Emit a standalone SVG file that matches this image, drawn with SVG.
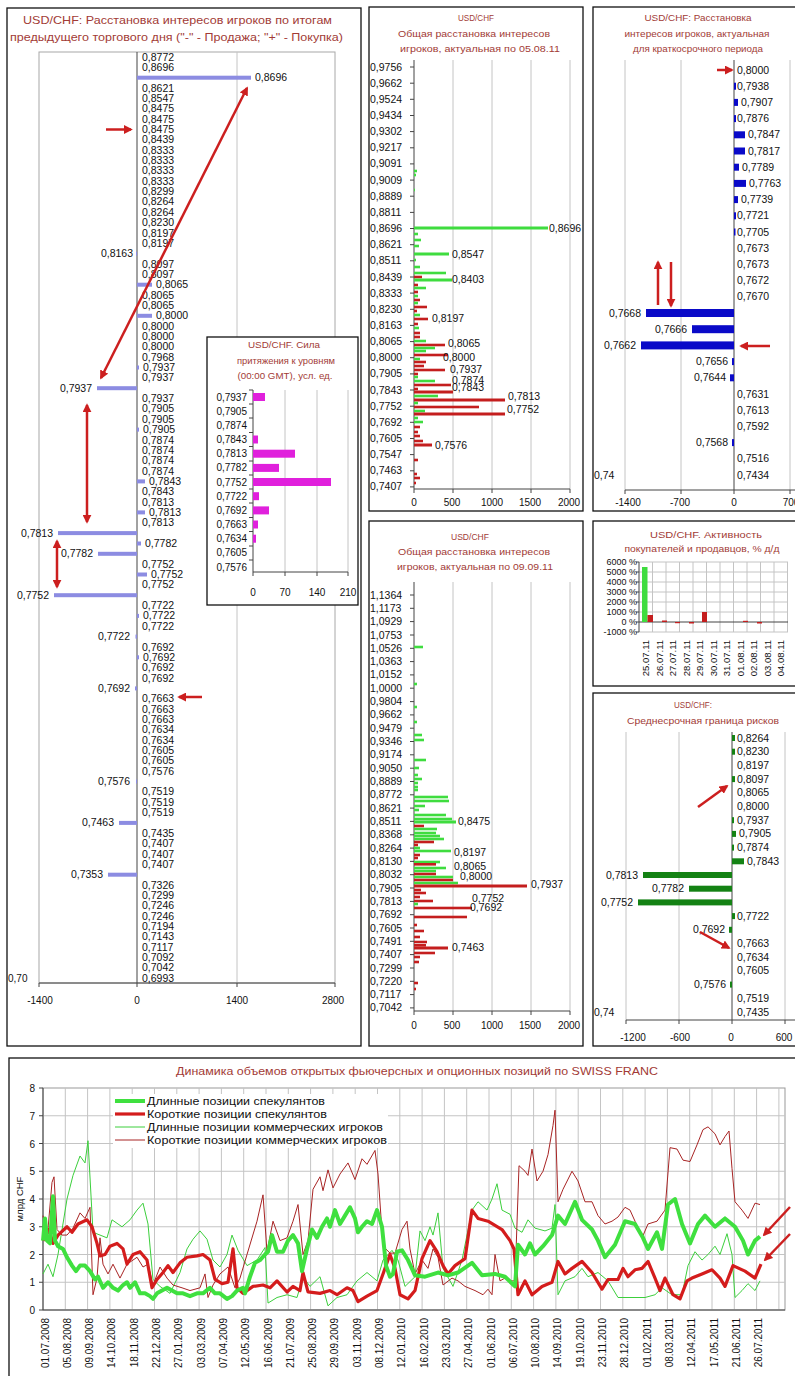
<svg xmlns="http://www.w3.org/2000/svg" width="795" height="1376" viewBox="0 0 795 1376">
<style>
text{font-family:"Liberation Sans",Arial,"Noto Sans",sans-serif;fill:#111}
.ttl{fill:#a23b36;font-size:11.5px}
.ts{fill:#a23b36;font-size:9.5px}
.lb{font-size:10.5px}
.sm{font-size:10px}
.e{text-anchor:end}
.m{text-anchor:middle}
.box{fill:#fff;stroke:#111;stroke-width:1.3}
.pa{fill:none;stroke:#a8a8a8;stroke-width:1}
.grid{stroke:#c4c4c4;stroke-width:1}
.ax{stroke:#444;stroke-width:1;fill:none}
.lp{fill:#8c8ce2}
.g{fill:#3fdc3f}
.r{fill:#c41e1e}
.bl{fill:#0a0ac8}
.dg{fill:#148214}
.mg{fill:#e020dc}
.arr{stroke:#cc1f1f;stroke-width:2.5;fill:none;marker-end:url(#ah)}
.arr2{stroke:#cc1f1f;stroke-width:2.5;fill:none;marker-end:url(#ah);marker-start:url(#ah)}
.ln{fill:none;vector-effect:non-scaling-stroke;stroke-linejoin:round}
</style>
<defs>
<marker id="ah" viewBox="0 0 10 10" refX="8" refY="5" markerWidth="3.6" markerHeight="3.6" orient="auto-start-reverse"><path d="M0,0 L10,5 L0,10 z" fill="#cc1f1f"/></marker>
</defs>
<rect width="795" height="1376" fill="#fff"/>

<!-- LEFT PANEL -->
<g id="left-panel">
<rect class="box" x="7" y="8" width="354" height="1038"/>
<text class="ttl m" x="177.5" y="24" textLength="309" lengthAdjust="spacingAndGlyphs">USD/CHF: Расстановка интересов игроков по итогам</text>
<text class="ttl m" x="176.5" y="41" textLength="333" lengthAdjust="spacingAndGlyphs">предыдущего торгового дня ("-" - Продажа; "+" - Покупка)</text>
<rect class="pa" x="39" y="52" width="296" height="931"/>
<line class="grid" x1="237" y1="52" x2="237" y2="983"/>
<line class="ax" x1="137" y1="52" x2="137" y2="983"/>
<path class="ax" d="M39,983 H335 M39,983 v4 M137,983 v4 M237,983 v4 M335,983 v4"/>
<g class="sm">
<text class="m" x="40" y="1004">-1400</text><text class="m" x="137" y="1004">0</text><text class="m" x="237" y="1004">1400</text><text class="m" x="333" y="1004">2800</text>
<text x="8" y="982">0,70</text>
</g>
<rect class="lp" x="137" y="75.7" width="114" height="4"/>
<rect class="lp" x="137" y="282.7" width="15" height="4"/>
<rect class="lp" x="137" y="313.8" width="15" height="4"/>
<rect class="lp" x="137" y="365.5" width="2" height="4"/>
<rect class="lp" x="97" y="386.2" width="40" height="4"/>
<rect class="lp" x="137" y="427.6" width="2" height="4"/>
<rect class="lp" x="137" y="479.4" width="8" height="4"/>
<rect class="lp" x="137" y="510.4" width="8" height="4"/>
<rect class="lp" x="58" y="531.1" width="79" height="4"/>
<rect class="lp" x="137" y="541.5" width="4" height="4"/>
<rect class="lp" x="98" y="551.8" width="39" height="4"/>
<rect class="lp" x="137" y="572.5" width="10" height="4"/>
<rect class="lp" x="54" y="593.2" width="83" height="4"/>
<rect class="lp" x="137" y="613.9" width="2" height="4"/>
<rect class="lp" x="135.5" y="634.6" width="1.5" height="4"/>
<rect class="lp" x="137" y="655.3" width="2" height="4"/>
<rect class="lp" x="135" y="686.4" width="2" height="4"/>
<rect class="lp" x="136" y="779.5" width="1" height="4"/>
<rect class="lp" x="119" y="820.9" width="18" height="4"/>
<rect class="lp" x="108" y="872.7" width="29" height="4"/>
<rect class="lp" x="136" y="251.7" width="1" height="4"/>
<g class="lb">
<text x="142" y="60.5">0,8772</text>
<text x="142" y="70.9">0,8696</text>
<text x="255" y="81.2">0,8696</text>
<text x="142" y="91.6">0,8621</text>
<text x="142" y="101.9">0,8547</text>
<text x="142" y="112.3">0,8475</text>
<text x="142" y="122.6">0,8475</text>
<text x="142" y="133">0,8475</text>
<text x="142" y="143.3">0,8439</text>
<text x="142" y="153.7">0,8333</text>
<text x="142" y="164">0,8333</text>
<text x="142" y="174.4">0,8333</text>
<text x="142" y="184.7">0,8333</text>
<text x="142" y="195.1">0,8299</text>
<text x="142" y="205.4">0,8264</text>
<text x="142" y="215.8">0,8264</text>
<text x="142" y="226.1">0,8230</text>
<text x="142" y="236.5">0,8197</text>
<text x="142" y="246.8">0,8197</text>
<text class="e" x="133" y="257.2">0,8163</text>
<text x="142" y="267.5">0,8097</text>
<text x="142" y="277.9">0,8097</text>
<text x="156" y="288.2">0,8065</text>
<text x="142" y="298.6">0,8065</text>
<text x="142" y="308.9">0,8065</text>
<text x="156" y="319.3">0,8000</text>
<text x="142" y="329.6">0,8000</text>
<text x="142" y="340">0,8000</text>
<text x="142" y="350.3">0,8000</text>
<text x="142" y="360.7">0,7968</text>
<text x="143" y="371">0,7937</text>
<text x="142" y="381.4">0,7937</text>
<text class="e" x="92" y="391.7">0,7937</text>
<text x="142" y="402.1">0,7937</text>
<text x="142" y="412.4">0,7905</text>
<text x="142" y="422.8">0,7905</text>
<text x="143" y="433.1">0,7905</text>
<text x="142" y="443.5">0,7874</text>
<text x="142" y="453.8">0,7874</text>
<text x="142" y="464.2">0,7874</text>
<text x="142" y="474.5">0,7874</text>
<text x="149" y="484.9">0,7843</text>
<text x="142" y="495.2">0,7843</text>
<text x="142" y="505.6">0,7813</text>
<text x="149" y="515.9">0,7813</text>
<text x="142" y="526.3">0,7813</text>
<text class="e" x="53" y="536.6">0,7813</text>
<text x="145" y="547">0,7782</text>
<text class="e" x="93" y="557.3">0,7782</text>
<text x="142" y="567.7">0,7752</text>
<text x="151" y="578">0,7752</text>
<text x="142" y="588.4">0,7752</text>
<text class="e" x="49" y="598.7">0,7752</text>
<text x="142" y="609.1">0,7722</text>
<text x="143" y="619.4">0,7722</text>
<text x="142" y="629.8">0,7722</text>
<text class="e" x="130" y="640.1">0,7722</text>
<text x="142" y="650.5">0,7692</text>
<text x="143" y="660.8">0,7692</text>
<text x="142" y="671.2">0,7692</text>
<text x="142" y="681.5">0,7692</text>
<text class="e" x="130" y="691.9">0,7692</text>
<text x="142" y="702.2">0,7663</text>
<text x="142" y="712.6">0,7663</text>
<text x="142" y="722.9">0,7663</text>
<text x="142" y="733.3">0,7634</text>
<text x="142" y="743.6">0,7634</text>
<text x="142" y="754">0,7605</text>
<text x="142" y="764.3">0,7605</text>
<text x="142" y="774.7">0,7576</text>
<text class="e" x="130" y="785">0,7576</text>
<text x="142" y="795.4">0,7519</text>
<text x="142" y="805.7">0,7519</text>
<text x="142" y="816.1">0,7519</text>
<text class="e" x="114" y="826.4">0,7463</text>
<text x="142" y="836.8">0,7435</text>
<text x="142" y="847.1">0,7407</text>
<text x="142" y="857.5">0,7407</text>
<text x="142" y="867.8">0,7407</text>
<text class="e" x="103" y="878.2">0,7353</text>
<text x="142" y="888.5">0,7326</text>
<text x="142" y="898.9">0,7299</text>
<text x="142" y="909.2">0,7246</text>
<text x="142" y="919.6">0,7246</text>
<text x="142" y="929.9">0,7194</text>
<text x="142" y="940.3">0,7143</text>
<text x="142" y="950.6">0,7117</text>
<text x="142" y="961">0,7092</text>
<text x="142" y="971.3">0,7042</text>
<text x="142" y="981.7">0,6993</text>
</g>
</g>

<!-- INSET -->
<g id="inset-attraction">
<rect class="box" x="207" y="337" width="151" height="268"/>
<text class="ts m" x="284" y="348" textLength="72" lengthAdjust="spacingAndGlyphs">USD/CHF. Сила</text>
<text class="ts m" x="286" y="364" textLength="98" lengthAdjust="spacingAndGlyphs">притяжения к уровням</text>
<text class="ts m" x="285" y="379" textLength="95" lengthAdjust="spacingAndGlyphs">(00:00 GMT), усл. ед.</text>
<line class="grid" x1="285" y1="390" x2="285" y2="572"/>
<line class="grid" x1="317" y1="390" x2="317" y2="572"/>
<line class="grid" x1="348" y1="390" x2="348" y2="572"/>
<path class="ax" d="M253,390 V572 H348 M253,572 v4 M285,572 v4 M317,572 v4 M348,572 v4 M249,390 h4 M249,404 h4 M249,418 h4 M249,432.5 h4 M249,446.5 h4 M249,461 h4 M249,475 h4 M249,489 h4 M249,503 h4 M249,517.5 h4 M249,531.5 h4 M249,546 h4 M249,560 h4"/>
<rect class="mg" x="253" y="393" width="12" height="8"/>
<rect class="mg" x="253" y="435.5" width="5" height="8"/>
<rect class="mg" x="253" y="449.7" width="42" height="8"/>
<rect class="mg" x="253" y="463.9" width="26" height="8"/>
<rect class="mg" x="253" y="478" width="78" height="8"/>
<rect class="mg" x="253" y="492.2" width="6" height="8"/>
<rect class="mg" x="253" y="506.4" width="16" height="8"/>
<rect class="mg" x="253" y="520.5" width="5" height="8"/>
<rect class="mg" x="253" y="534.7" width="3" height="8"/>
<g class="sm">
<text class="e" x="247" y="400.5">0,7937</text>
<text class="e" x="247" y="414.7">0,7905</text>
<text class="e" x="247" y="428.8">0,7874</text>
<text class="e" x="247" y="443">0,7843</text>
<text class="e" x="247" y="457.2">0,7813</text>
<text class="e" x="247" y="471.4">0,7782</text>
<text class="e" x="247" y="485.5">0,7752</text>
<text class="e" x="247" y="499.7">0,7722</text>
<text class="e" x="247" y="513.9">0,7692</text>
<text class="e" x="247" y="528">0,7663</text>
<text class="e" x="247" y="542.2">0,7634</text>
<text class="e" x="247" y="556.4">0,7605</text>
<text class="e" x="247" y="570.5">0,7576</text>
<text class="m" x="253" y="596">0</text><text class="m" x="285" y="596">70</text><text class="m" x="317" y="596">140</text><text class="m" x="348" y="596">210</text>
</g>
</g>

<!-- MIDDLE TOP -->
<g id="mid-top">
<rect class="box" x="369" y="7" width="214" height="504"/>
<text class="ts m" x="476" y="21" textLength="36" lengthAdjust="spacingAndGlyphs">USD/CHF</text>
<text class="ts m" x="474" y="37" textLength="152" lengthAdjust="spacingAndGlyphs">Общая расстановка интересов</text>
<text class="ts m" x="480" y="52" textLength="160" lengthAdjust="spacingAndGlyphs">игроков, актуальная по 05.08.11</text>
<path class="grid" d="M453,60 V489 M492,60 V489 M531,60 V489 M570,60 V489"/>
<path class="ax" d="M414,60 V489 H570 M453,489 v4 M492,489 v4 M531,489 v4 M570,489 v4 M414,489 v4"/>
<path class="ax" d="M410,67 h4 M410,83.2 h4 M410,99.3 h4 M410,115.5 h4 M410,131.6 h4 M410,147.8 h4 M410,163.9 h4 M410,180.1 h4 M410,196.2 h4 M410,212.4 h4 M410,228.5 h4 M410,244.7 h4 M410,260.8 h4 M410,277 h4 M410,293.1 h4 M410,309.3 h4 M410,325.4 h4 M410,341.6 h4 M410,357.7 h4 M410,373.9 h4 M410,390 h4 M410,406.2 h4 M410,422.3 h4 M410,438.5 h4 M410,454.6 h4 M410,470.8 h4 M410,486.9 h4"/>
<g class="lb">
<text x="370" y="70.5">0,9756</text><text x="370" y="86.7">0,9662</text><text x="370" y="102.8">0,9524</text><text x="370" y="119">0,9434</text><text x="370" y="135.1">0,9302</text><text x="370" y="151.3">0,9217</text><text x="370" y="167.4">0,9091</text><text x="370" y="183.6">0,9009</text><text x="370" y="199.7">0,8889</text><text x="370" y="215.9">0,8811</text><text x="370" y="232">0,8696</text><text x="370" y="248.2">0,8621</text><text x="370" y="264.3">0,8511</text><text x="370" y="280.5">0,8439</text><text x="370" y="296.6">0,8333</text><text x="370" y="312.8">0,8230</text><text x="370" y="328.9">0,8163</text><text x="370" y="345.1">0,8065</text><text x="370" y="361.2">0,8000</text><text x="370" y="377.4">0,7905</text><text x="370" y="393.5">0,7843</text><text x="370" y="409.7">0,7752</text><text x="370" y="425.8">0,7692</text><text x="370" y="442">0,7605</text><text x="370" y="458.1">0,7547</text><text x="370" y="474.3">0,7463</text><text x="370" y="490.4">0,7407</text>
</g>
<g>
<rect class="g" x="414" y="169.7" width="3" height="2.6"/>
<rect class="g" x="414" y="173.7" width="2" height="2.6"/>
<rect class="g" x="414" y="188.7" width="1" height="2.6"/>
<rect class="g" x="414" y="226.5" width="134" height="3"/>
<rect class="g" x="414" y="232.7" width="4" height="2.6"/>
<rect class="g" x="414" y="238.7" width="7" height="2.6"/>
<rect class="g" x="414" y="244.7" width="5" height="2.6"/>
<rect class="g" x="414" y="252.5" width="35" height="3"/>
<rect class="g" x="414" y="258.7" width="2" height="2.6"/>
<rect class="g" x="414" y="265.7" width="6" height="2.6"/>
<rect class="g" x="414" y="271.7" width="32" height="2.6"/>
<rect class="r" x="414" y="275.7" width="8" height="2.6"/>
<rect class="g" x="414" y="278.5" width="38" height="3"/>
<rect class="r" x="414" y="283.7" width="4" height="2.6"/>
<rect class="g" x="414" y="286.7" width="12" height="2.6"/>
<rect class="r" x="414" y="290.7" width="4" height="2.6"/>
<rect class="g" x="414" y="294.7" width="4" height="2.6"/>
<rect class="r" x="414" y="298.7" width="6" height="2.6"/>
<rect class="g" x="414" y="301.7" width="4" height="2.6"/>
<rect class="r" x="414" y="305.7" width="13" height="2.6"/>
<rect class="r" x="414" y="309.7" width="3" height="2.6"/>
<rect class="g" x="414" y="313.7" width="6" height="2.6"/>
<rect class="r" x="414" y="317.7" width="14" height="2.6"/>
<rect class="r" x="414" y="322.7" width="4" height="2.6"/>
<rect class="g" x="414" y="326.7" width="5" height="2.6"/>
<rect class="r" x="414" y="331.7" width="6" height="2.6"/>
<rect class="r" x="414" y="335.7" width="6" height="2.6"/>
<rect class="g" x="414" y="339.7" width="12" height="2.6"/>
<rect class="r" x="414" y="343.7" width="31" height="2.6"/>
<rect class="g" x="414" y="346.7" width="21" height="2.6"/>
<rect class="g" x="414" y="349.7" width="12" height="2.6"/>
<rect class="r" x="414" y="353.7" width="34" height="2.6"/>
<rect class="g" x="414" y="357.7" width="6" height="2.6"/>
<rect class="r" x="414" y="360.7" width="12" height="2.6"/>
<rect class="r" x="414" y="364.7" width="10" height="2.6"/>
<rect class="r" x="414" y="368.7" width="31" height="2.6"/>
<rect class="r" x="414" y="372.7" width="4" height="2.6"/>
<rect class="g" x="414" y="375.7" width="4" height="2.6"/>
<rect class="g" x="414" y="379.7" width="21" height="2.6"/>
<rect class="r" x="414" y="383.7" width="37" height="2.6"/>
<rect class="r" x="414" y="387.7" width="4" height="2.6"/>
<rect class="r" x="414" y="390.5" width="39" height="3"/>
<rect class="g" x="414" y="394.7" width="24" height="2.6"/>
<rect class="r" x="414" y="398.5" width="91" height="3"/>
<rect class="g" x="414" y="401.7" width="4" height="2.6"/>
<rect class="r" x="414" y="405.7" width="65" height="2.6"/>
<rect class="g" x="414" y="409.7" width="11" height="2.6"/>
<rect class="r" x="414" y="412.5" width="91" height="3"/>
<rect class="g" x="414" y="416.7" width="4" height="2.6"/>
<rect class="g" x="414" y="420.7" width="9" height="2.6"/>
<rect class="r" x="414" y="425.7" width="6" height="2.6"/>
<rect class="r" x="414" y="430.7" width="4" height="2.6"/>
<rect class="r" x="414" y="434.7" width="6" height="2.6"/>
<rect class="r" x="414" y="439.7" width="9" height="2.6"/>
<rect class="r" x="414" y="443.5" width="18" height="3"/>
<rect class="r" x="414" y="458.7" width="4" height="2.6"/>
<rect class="r" x="414" y="472.7" width="3" height="2.6"/>
<rect class="r" x="414" y="476.7" width="6" height="2.6"/>
<rect class="r" x="414" y="481.7" width="2" height="2.6"/>
</g>
<g class="lb">
<text x="549" y="231.5">0,8696</text>
<text x="452" y="257.5">0,8547</text>
<text x="452" y="282.5">0,8403</text>
<text x="432" y="321.5">0,8197</text>
<text x="448" y="346.5">0,8065</text>
<text x="443" y="360.5">0,8000</text>
<text x="450" y="372.5">0,7937</text>
<text x="452" y="384">0,7874</text>
<text x="452" y="391">0,7843</text>
<text x="508" y="399.5">0,7813</text>
<text x="507" y="412.5">0,7752</text>
<text x="435" y="448.5">0,7576</text>
</g>
<g class="sm">
<text class="m" x="414" y="506">0</text><text class="m" x="452" y="506">500</text><text class="m" x="492" y="506">1000</text><text class="m" x="530" y="506">1500</text><text class="m" x="569" y="506">2000</text>
</g>
</g>

<!-- MIDDLE BOTTOM -->
<g id="mid-bottom">
<rect class="box" x="369" y="521" width="214" height="525"/>
<text class="ts m" x="470" y="540" textLength="38" lengthAdjust="spacingAndGlyphs">USD/CHF</text>
<text class="ts m" x="474" y="555" textLength="152" lengthAdjust="spacingAndGlyphs">Общая расстановка интересов</text>
<text class="ts m" x="475" y="570" textLength="156" lengthAdjust="spacingAndGlyphs">игроков, актуальная по 09.09.11</text>
<path class="grid" d="M453,582 V1011 M492,582 V1011 M531,582 V1011 M570,582 V1011"/>
<path class="ax" d="M414,582 V1011 H570 M453,1011 v4 M492,1011 v4 M531,1011 v4 M570,1011 v4 M414,1011 v4"/>
<path class="ax" d="M410,595 h4 M410,608.3 h4 M410,621.6 h4 M410,635 h4 M410,648.3 h4 M410,661.6 h4 M410,674.9 h4 M410,688.2 h4 M410,701.6 h4 M410,714.9 h4 M410,728.2 h4 M410,741.5 h4 M410,754.8 h4 M410,768.2 h4 M410,781.5 h4 M410,794.8 h4 M410,808.1 h4 M410,821.4 h4 M410,834.8 h4 M410,848.1 h4 M410,861.4 h4 M410,874.7 h4 M410,888 h4 M410,901.4 h4 M410,914.7 h4 M410,928 h4 M410,941.3 h4 M410,954.6 h4 M410,968 h4 M410,981.3 h4 M410,994.6 h4 M410,1007.9 h4"/>
<g class="lb">
<text x="370" y="598.5">1,1364</text><text x="370" y="611.8">1,1173</text><text x="370" y="625.1">1,0929</text><text x="370" y="638.5">1,0753</text><text x="370" y="651.8">1,0526</text><text x="370" y="665.1">1,0363</text><text x="370" y="678.4">1,0152</text><text x="370" y="691.7">1,0000</text><text x="370" y="705.1">0,9804</text><text x="370" y="718.4">0,9662</text><text x="370" y="731.7">0,9479</text><text x="370" y="745">0,9346</text><text x="370" y="758.3">0,9174</text><text x="370" y="771.7">0,9050</text><text x="370" y="785">0,8889</text><text x="370" y="798.3">0,8772</text><text x="370" y="811.6">0,8621</text><text x="370" y="824.9">0,8511</text><text x="370" y="838.3">0,8368</text><text x="370" y="851.6">0,8264</text><text x="370" y="864.9">0,8130</text><text x="370" y="878.2">0,8032</text><text x="370" y="891.5">0,7905</text><text x="370" y="904.9">0,7813</text><text x="370" y="918.2">0,7692</text><text x="370" y="931.5">0,7605</text><text x="370" y="944.8">0,7491</text><text x="370" y="958.1">0,7407</text><text x="370" y="971.5">0,7299</text><text x="370" y="984.8">0,7220</text><text x="370" y="998.1">0,7117</text><text x="370" y="1011.4">0,7042</text>
</g>
<g>
<rect class="g" x="414" y="645.7" width="9" height="2.6"/>
<rect class="g" x="414" y="682.7" width="3" height="2.6"/>
<rect class="g" x="414" y="705.7" width="3" height="2.6"/>
<rect class="g" x="414" y="720.7" width="3" height="2.6"/>
<rect class="g" x="414" y="733.7" width="8" height="2.6"/>
<rect class="g" x="414" y="738.7" width="10" height="2.6"/>
<rect class="g" x="414" y="758.7" width="12" height="2.6"/>
<rect class="g" x="414" y="766.7" width="5" height="2.6"/>
<rect class="g" x="414" y="773.7" width="4" height="2.6"/>
<rect class="g" x="414" y="777.7" width="8" height="2.6"/>
<rect class="g" x="414" y="781.7" width="4" height="2.6"/>
<rect class="g" x="414" y="785.7" width="4" height="2.6"/>
<rect class="g" x="414" y="788.7" width="4" height="2.6"/>
<rect class="g" x="414" y="795.7" width="34" height="2.6"/>
<rect class="g" x="414" y="799.7" width="35" height="2.6"/>
<rect class="g" x="414" y="804.7" width="11" height="2.6"/>
<rect class="g" x="414" y="808.7" width="5" height="2.6"/>
<rect class="g" x="414" y="813.7" width="32" height="2.6"/>
<rect class="g" x="414" y="817.7" width="38" height="2.6"/>
<rect class="g" x="414" y="820.5" width="42" height="3"/>
<rect class="r" x="414" y="824.7" width="10" height="2.6"/>
<rect class="g" x="414" y="827.7" width="23" height="2.6"/>
<rect class="g" x="414" y="831.7" width="22" height="2.6"/>
<rect class="g" x="414" y="834.7" width="26" height="2.6"/>
<rect class="g" x="414" y="837.7" width="30" height="2.6"/>
<rect class="r" x="414" y="840.7" width="20" height="2.6"/>
<rect class="r" x="414" y="843.7" width="4" height="2.6"/>
<rect class="g" x="414" y="846.7" width="6" height="2.6"/>
<rect class="g" x="414" y="849.7" width="37" height="2.6"/>
<rect class="r" x="414" y="853.7" width="6" height="2.6"/>
<rect class="r" x="414" y="856.7" width="4" height="2.6"/>
<rect class="g" x="414" y="860.7" width="26" height="2.6"/>
<rect class="r" x="414" y="863" width="22" height="2.6"/>
<rect class="g" x="414" y="866.7" width="32" height="2.6"/>
<rect class="g" x="414" y="869.7" width="22" height="2.6"/>
<rect class="r" x="414" y="872.7" width="22" height="2.6"/>
<rect class="g" x="414" y="875.7" width="39" height="2.6"/>
<rect class="r" x="414" y="878.7" width="39" height="2.6"/>
<rect class="g" x="414" y="881.7" width="44" height="2.6"/>
<rect class="r" x="414" y="884.5" width="113" height="3"/>
<rect class="r" x="414" y="888.7" width="7" height="2.6"/>
<rect class="r" x="414" y="891.7" width="12" height="2.6"/>
<rect class="r" x="414" y="895.7" width="6" height="2.6"/>
<rect class="r" x="414" y="899.7" width="19" height="2.6"/>
<rect class="g" x="414" y="902.7" width="4" height="2.6"/>
<rect class="r" x="414" y="906.7" width="58" height="2.6"/>
<rect class="r" x="414" y="915.7" width="53" height="2.6"/>
<rect class="r" x="414" y="923.7" width="3" height="2.6"/>
<rect class="r" x="414" y="929.7" width="10" height="2.6"/>
<rect class="r" x="414" y="935.7" width="6" height="2.6"/>
<rect class="r" x="414" y="940.7" width="13" height="2.6"/>
<rect class="r" x="414" y="944" width="12" height="2.6"/>
<rect class="r" x="414" y="946.5" width="34" height="3"/>
<rect class="r" x="414" y="951.7" width="21" height="2.6"/>
<rect class="r" x="414" y="955.7" width="6" height="2.6"/>
<rect class="r" x="414" y="960.7" width="5" height="2.6"/>
<rect class="r" x="414" y="981.7" width="4" height="2.6"/>
<rect class="r" x="414" y="987.7" width="2" height="2.6"/>
</g>
<g class="lb">
<text x="458" y="825">0,8475</text>
<text x="454" y="856">0,8197</text>
<text x="454" y="870">0,8065</text>
<text x="460" y="880">0,8000</text>
<text x="531" y="888">0,7937</text>
<text x="472" y="901.5">0,7752</text>
<text x="470" y="910.5">0,7692</text>
<text x="452" y="951">0,7463</text>
</g>
<g class="sm">
<text class="m" x="414" y="1029">0</text><text class="m" x="452" y="1029">500</text><text class="m" x="492" y="1029">1000</text><text class="m" x="530" y="1029">1500</text><text class="m" x="569" y="1029">2000</text>
</g>
</g>

<!-- RIGHT TOP -->
<g id="right-top">
<rect class="box" x="593" y="7" width="210" height="504"/>
<text class="ts m" x="698" y="21" textLength="107" lengthAdjust="spacingAndGlyphs">USD/CHF: Расстановка</text>
<text class="ts m" x="697" y="37" textLength="145" lengthAdjust="spacingAndGlyphs">интересов игроков, актуальная</text>
<text class="ts m" x="698" y="52" textLength="130" lengthAdjust="spacingAndGlyphs">для краткосрочного периода</text>
<path class="grid" d="M625,60 V490 M681,60 V490 M790,60 V490"/>
<path class="ax" d="M734,60 V490 M625,490 H795 M625,490 v4 M681,490 v4 M734,490 v4 M790,490 v4"/>
<rect class="bl" x="734" y="82.7" width="2" height="7"/>
<rect class="bl" x="734" y="98.9" width="4" height="7"/>
<rect class="bl" x="734" y="115.1" width="2" height="7"/>
<rect class="bl" x="734" y="131.3" width="11" height="7"/>
<rect class="bl" x="734" y="147.5" width="11" height="7"/>
<rect class="bl" x="734" y="163.7" width="5" height="7"/>
<rect class="bl" x="734" y="179.9" width="12" height="7"/>
<rect class="bl" x="734" y="196.1" width="4" height="7"/>
<rect class="bl" x="734" y="212.3" width="2" height="7"/>
<rect class="bl" x="734" y="228.5" width="1.5" height="7"/>
<rect class="bl" x="646" y="309" width="88" height="8"/>
<rect class="bl" x="692" y="325.2" width="42" height="8"/>
<rect class="bl" x="641" y="341.4" width="93" height="8"/>
<rect class="bl" x="732" y="358.1" width="2" height="7"/>
<rect class="bl" x="730" y="374.3" width="4" height="7"/>
<rect class="bl" x="732" y="439.1" width="2" height="7"/>
<g class="lb">
<text x="737" y="73.5">0,8000</text>
<text x="737" y="89.7">0,7938</text>
<text x="741" y="105.9">0,7907</text>
<text x="737" y="122.1">0,7876</text>
<text x="748" y="138.3">0,7847</text>
<text x="748" y="154.5">0,7817</text>
<text x="742" y="170.7">0,7789</text>
<text x="749" y="186.9">0,7763</text>
<text x="741" y="203.1">0,7739</text>
<text x="737" y="219.3">0,7721</text>
<text x="737" y="235.5">0,7705</text>
<text x="737" y="251.7">0,7673</text>
<text x="737" y="267.9">0,7673</text>
<text x="737" y="284.1">0,7672</text>
<text x="737" y="300.3">0,7670</text>
<text class="e" x="641" y="316.5">0,7668</text>
<text class="e" x="687" y="332.7">0,7666</text>
<text class="e" x="636" y="348.9">0,7662</text>
<text class="e" x="728" y="365.1">0,7656</text>
<text class="e" x="726" y="381.3">0,7644</text>
<text x="737" y="397.5">0,7631</text>
<text x="737" y="413.7">0,7613</text>
<text x="737" y="429.9">0,7592</text>
<text class="e" x="728" y="446.1">0,7568</text>
<text x="737" y="462.3">0,7516</text>
<text x="737" y="478.5">0,7434</text>
<text x="594" y="479">0,74</text>
</g>
<g class="sm">
<text class="m" x="628" y="506">-1400</text><text class="m" x="680" y="506">-700</text><text class="m" x="734" y="506">0</text><text class="m" x="791" y="506">700</text>
</g>
</g>

<!-- RIGHT MIDDLE -->
<g id="right-activity">
<rect class="box" x="593" y="521" width="210" height="165"/>
<text class="ts m" x="706" y="538" textLength="112" lengthAdjust="spacingAndGlyphs">USD/CHF. Активность</text>
<text class="ts m" x="702" y="552" textLength="155" lengthAdjust="spacingAndGlyphs">покупателей и продавцов, % д/д</text>
<path class="grid" d="M639,562 H788 M639,572 H788 M639,582 H788 M639,592 H788 M639,602 H788 M639,612 H788 M639,632 H788 M652.5,562 V632 M666,562 V632 M679.5,562 V632 M693,562 V632 M706.5,562 V632 M720,562 V632 M733.5,562 V632 M747,562 V632 M760.5,562 V632 M774,562 V632 M787.5,562 V632"/>
<path class="ax" d="M639,562 V632 M639,622 H788 M636,562 h3 M636,572 h3 M636,582 h3 M636,592 h3 M636,602 h3 M636,612 h3 M636,622 h3 M636,632 h3"/>
<rect x="642" y="567" width="5.5" height="55" fill="#3fdc3f"/>
<rect class="r" x="647.5" y="615" width="5.5" height="7"/>
<rect class="r" x="662" y="620.5" width="5" height="1.5"/>
<rect class="r" x="675" y="622" width="5" height="1.2"/>
<rect class="r" x="689" y="622" width="5" height="1.5"/>
<rect class="r" x="702" y="612" width="5" height="10"/>
<rect class="r" x="743" y="620.8" width="5" height="1.2"/>
<rect class="r" x="757" y="622" width="5" height="1.5"/>
<g style="font-size:9px">
<text class="e" x="637" y="565">6000 %</text>
<text class="e" x="637" y="575">5000 %</text>
<text class="e" x="637" y="585">4000 %</text>
<text class="e" x="637" y="595">3000 %</text>
<text class="e" x="637" y="605">2000 %</text>
<text class="e" x="637" y="615">1000 %</text>
<text class="e" x="637" y="625">0 %</text>
<text class="e" x="637" y="635">-1000 %</text>
</g>
<g style="font-size:9.5px" class="e">
<text transform="translate(649,640) rotate(-90)">25.07.11</text>
<text transform="translate(662.5,640) rotate(-90)">26.07.11</text>
<text transform="translate(676,640) rotate(-90)">27.07.11</text>
<text transform="translate(689.5,640) rotate(-90)">28.07.11</text>
<text transform="translate(703,640) rotate(-90)">29.07.11</text>
<text transform="translate(716.5,640) rotate(-90)">30.07.11</text>
<text transform="translate(730,640) rotate(-90)">31.07.11</text>
<text transform="translate(743.5,640) rotate(-90)">01.08.11</text>
<text transform="translate(757,640) rotate(-90)">02.08.11</text>
<text transform="translate(770.5,640) rotate(-90)">03.08.11</text>
<text transform="translate(784,640) rotate(-90)">04.08.11</text>
</g>
</g>

<!-- RIGHT BOTTOM -->
<g id="right-risk">
<rect class="box" x="593" y="693" width="210" height="353"/>
<text class="ts m" x="693" y="708" textLength="38" lengthAdjust="spacingAndGlyphs">USD/CHF:</text>
<text class="ts m" x="703" y="724" textLength="152" lengthAdjust="spacingAndGlyphs">Среднесрочная граница рисков</text>
<path class="grid" d="M626,732 V1020 M679,732 V1020 M785,732 V1020"/>
<path class="ax" d="M732,732 V1020 M626,1020 H795 M626,1020 v4 M679,1020 v4 M732,1020 v4 M785,1020 v4"/>
<rect class="dg" x="732" y="735" width="3" height="6"/>
<rect class="dg" x="732" y="748.7" width="3" height="6"/>
<rect class="dg" x="732" y="776.1" width="3" height="6"/>
<rect class="dg" x="732" y="817.2" width="2" height="6"/>
<rect class="dg" x="732" y="830.9" width="4" height="6"/>
<rect class="dg" x="732" y="844.6" width="2" height="6"/>
<rect class="dg" x="732" y="858.3" width="12" height="6"/>
<rect class="dg" x="643" y="872" width="89" height="6"/>
<rect class="dg" x="689" y="885.7" width="43" height="6"/>
<rect class="dg" x="638" y="899.4" width="94" height="6"/>
<rect class="dg" x="732" y="913.1" width="3" height="6"/>
<rect class="dg" x="729" y="926.8" width="3" height="6"/>
<rect class="dg" x="730" y="981.6" width="2" height="6"/>
<g class="lb">
<text x="737" y="741.5">0,8264</text>
<text x="737" y="755.2">0,8230</text>
<text x="737" y="768.9">0,8197</text>
<text x="737" y="782.6">0,8097</text>
<text x="737" y="796.3">0,8065</text>
<text x="737" y="810">0,8000</text>
<text x="737" y="823.7">0,7937</text>
<text x="739" y="837.4">0,7905</text>
<text x="737" y="851.1">0,7874</text>
<text x="747" y="864.8">0,7843</text>
<text class="e" x="638" y="878.5">0,7813</text>
<text class="e" x="684" y="892.2">0,7782</text>
<text class="e" x="633" y="905.9">0,7752</text>
<text x="737" y="919.6">0,7722</text>
<text class="e" x="725" y="933.3">0,7692</text>
<text x="737" y="947">0,7663</text>
<text x="737" y="960.7">0,7634</text>
<text x="737" y="974.4">0,7605</text>
<text class="e" x="726" y="988.1">0,7576</text>
<text x="737" y="1001.8">0,7519</text>
<text x="737" y="1015.5">0,7435</text>
<text x="594" y="1016">0,74</text>
</g>
<g class="sm">
<text class="m" x="633" y="1041">-1200</text><text class="m" x="680" y="1041">-600</text><text class="m" x="731" y="1041">0</text><text class="m" x="784" y="1041">600</text>
</g>
</g>

<!-- BOTTOM CHART -->
<g id="bottom-chart">
<rect class="box" x="9" y="1058" width="800" height="330"/>
<text class="ttl m" x="417" y="1075" textLength="482" lengthAdjust="spacingAndGlyphs">Динамика объемов открытых фьючерсных и опционных позиций по SWISS FRANC</text>
<rect x="43" y="1088" width="742" height="222" fill="none" stroke="#999"/>
<path class="grid" d="M43,1115.75 H785 M43,1143.5 H785 M43,1171.25 H785 M43,1199 H785 M43,1226.75 H785 M43,1254.5 H785 M43,1282.25 H785 M65.3,1088 V1310 M87.6,1088 V1310 M109.9,1088 V1310 M132.2,1088 V1310 M154.5,1088 V1310 M176.8,1088 V1310 M199.1,1088 V1310 M221.4,1088 V1310 M243.7,1088 V1310 M266,1088 V1310 M288.3,1088 V1310 M310.6,1088 V1310 M332.9,1088 V1310 M355.2,1088 V1310 M377.5,1088 V1310 M399.8,1088 V1310 M422.1,1088 V1310 M444.4,1088 V1310 M466.7,1088 V1310 M489,1088 V1310 M511.3,1088 V1310 M533.6,1088 V1310 M555.9,1088 V1310 M578.2,1088 V1310 M600.5,1088 V1310 M622.8,1088 V1310 M645.1,1088 V1310 M667.4,1088 V1310 M689.7,1088 V1310 M712,1088 V1310 M734.3,1088 V1310 M756.6,1088 V1310 M778.9,1088 V1310"/>
<path class="ax" d="M43,1088 V1310 H785 M39,1088 h4 M39,1115.75 h4 M39,1143.5 h4 M39,1171.25 h4 M39,1199 h4 M39,1226.75 h4 M39,1254.5 h4 M39,1282.25 h4 M39,1310 h4"/>
<g class="sm">
<text class="e" x="35" y="1092">8</text><text class="e" x="35" y="1119.75">7</text><text class="e" x="35" y="1147.5">6</text><text class="e" x="35" y="1175.25">5</text><text class="e" x="35" y="1203">4</text><text class="e" x="35" y="1230.75">3</text><text class="e" x="35" y="1258.5">2</text><text class="e" x="35" y="1286.25">1</text><text class="e" x="35" y="1314">0</text>
<text class="m" style="font-size:9.5px" transform="translate(23,1199) rotate(-90)">млрд CHF</text>
</g>
<g transform="translate(0,1310) scale(1,-27.75)">
<polyline class="ln" stroke="#3ccf3c" stroke-width="1" points="43,1.3 48,1.65 53,1.2 58,2 67,4 73,4.85 80,5.55 85,5.3 88,6.1 93,2.8 100,2.7 107,2.6 112,3.25 122,3 130,3.25 137,3.6 143,3.85 148,3.1 153,1.1 160,0.85 170,0.6 180,1.35 187,2.2 193,2.55 200,2.85 207,2.55 213,1.8 220,1.55 227,2 232,2.7 238,2.15 247,1.6 257,1.8 265,2.25 268,0.25 277,0.45 287,0.55 297,0.45 303,1.2 310,0.85 320,1.2 328,0.15 337,0.45 347,0.55 357,1.05 367,1.35 377,1.05 383,1.8 392,2.15 398,1.8 405,0.85 415,1.2 420,2.85 425,2.5 430,3 433,2.7 438,3.5 443,1.5 450,1.05 453,0.85 462,1.8 472,3.6 478,3.9 487,3.6 492,4 497,4.55 502,3.6 510,3.45 515,2.95 522,2.8 528,3.25 535,2.95 545,2.85 552,2.95 555,3.8 558,0.55 565,1.05 575,1.2 582,1.5 588,1.2 598,1.35 608,1.05 618,0.45 628,0.45 645,0.45 655,0.55 662,0.8 672,0.55 682,0.55 688,1.6 695,2.1 702,1.8 708,2 715,2.3 720,2 727,2.75 732,2 735,0.45 742,0.7 748,0.95 755,0.7 760,1.05"/>
<polyline class="ln" stroke="#a82424" stroke-width="1" points="43,3.4 47,2.5 52,4.6 54,4.8 57,2.9 62,2.7 67,2.7 73,2.95 80,3.5 85,3.3 90,3.7 93,0.55 97,1.15 100,2.6 103,1.65 108,1.3 113,1.65 120,1.15 127,1.65 137,1.9 143,1.55 148,1.65 153,0.9 160,1.55 167,1.15 173,0.9 182,0.8 190,0.7 200,0.8 205,1.3 208,0.45 213,0.9 220,1.3 228,1.55 235,0.8 240,1.15 247,2 257,3.2 263,4.15 267,2.1 273,3.2 280,2.5 287,2.6 293,3.2 298,3.8 303,2 308,2.5 313,4.35 320,4.8 323,4.3 328,5.05 333,4.4 340,4.9 348,5.3 355,4.7 362,5.45 367,5.25 375,5.75 378,4.9 383,2.3 390,2.05 395,2.05 402,2.9 407,3.2 410,2.2 415,1.3 422,1.8 428,1.5 433,2.2 438,1.9 443,0.9 452,1.15 458,1.05 465,0.85 475,0.7 483,0.55 488,0.75 492,0.55 495,2 500,1.05 505,1.15 510,1.05 515,1.05 519,5.2 525,5 528,4.85 532,5.8 537,4.65 543,5 548,5.6 553,6.65 555,7.2 558,3.9 563,4.35 572,5 578,4.65 585,3.9 592,3.9 598,3.4 605,3.1 612,3.2 618,3.35 625,3.7 630,3.6 635,3.2 642,2.6 648,3.1 657,3.2 665,3.6 670,5.85 677,5.8 683,5.4 690,5.35 697,5.95 703,6.5 708,6.6 715,6.35 720,5.95 725,6.25 729,6.45 732,5.1 735,3.9 742,3.6 748,3.3 755,3.85 760,3.8"/>
<polyline class="ln" stroke="#d41c1c" stroke-width="3.2" points="43,2.5 49,2.9 53,2.4 58,2.7 67,3 72,2.8 78,3.1 87,3.25 92,3 97,2.4 100,1.95 105,2 110,2.3 117,2.4 123,2.2 127,1.65 133,2 140,2.1 147,1.8 152,0.8 157,1.1 163,1.35 168,1.6 173,1.35 180,1.7 187,1.9 197,1.95 203,2 210,1.8 215,1.1 222,0.95 228,1 233,2.2 237,0.8 243,0.6 253,0.85 263,0.9 270,0.8 277,1.05 287,0.65 293,0.85 300,0.7 303,1.35 308,0.65 320,0.6 330,0.7 337,0.55 347,0.8 353,0.7 358,0.3 367,0.5 377,0.7 383,1.3 390,2 395,1.5 400,0.55 408,0.4 415,0.7 422,1.85 430,2.5 437,2.1 443,1.6 448,1.3 455,1.6 465,1.85 472,3.6 478,3.3 488,3.2 502,2.9 510,2.5 514,2.2 518,0.55 525,1.05 532,0.55 542,0.85 552,1 558,1.75 565,1.3 572,1.5 582,1.75 592,1.35 602,0.75 608,1.1 618,1.1 623,1.5 628,1.2 635,1.45 642,1.5 648,1.75 655,1.15 660,0.7 665,1.15 673,0.55 680,0.4 687,1.05 692,1.15 702,1.3 712,1.45 720,1.15 725,0.85 733,1.6 745,1.4 755,1.15 761,1.65"/>
<polyline class="ln" stroke="#3fe03f" stroke-width="4" points="43,2.5 45,3.3 47,2.5 50,2.4 53,4.1 55,2.5 58,2.3 63,2.2 67,1.9 72,1.6 76,1.4 80,1.6 85,1.6 90,1.4 95,1.1 98,1.2 103,0.8 108,1 113,0.8 118,0.7 123,0.9 127,1 130,0.8 135,1 140,0.6 145,0.6 150,0.5 153,0.4 157,0.6 162,0.7 167,0.8 172,0.7 177,0.6 183,0.6 190,0.5 197,0.6 203,0.6 210,0.8 215,0.6 220,0.6 227,0.4 232,0.5 237,0.7 243,0.8 245,0.6 250,1.2 255,1.7 260,1.8 265,2 268,2.1 272,2.7 277,2.1 283,2.1 288,2.5 293,2.7 298,2.4 302,1.4 307,2.2 312,2.9 317,2.6 322,3 327,3.3 330,3 335,3.6 340,3.1 345,3.4 350,3.7 355,3.3 358,2.8 362,3 367,3.2 372,3.1 377,3.6 382,3 386,1.6 390,1.2 393,1.3 397,2.1 402,2.15 408,1.8 415,1.25 425,1.2 438,1.35 448,1.25 458,1.35 472,1.7 482,1.25 495,1.3 505,1.2 515,0.85 518,2.35 525,2 530,2.4 535,2 543,2.3 552,2.7 558,3.4 565,3.1 575,3.9 582,3.25 592,2.9 598,2.5 605,1.9 615,2.35 625,3.2 635,3.1 643,2.6 648,2.2 657,2.8 662,2.2 668,3.8 675,4 682,3.1 690,2.4 698,3.1 705,3.4 715,3 725,3.3 735,3 743,2.5 748,2 755,2.5 760,2.65"/>
</g>
<rect x="113" y="1094" width="275" height="54" fill="#fff"/>
<line x1="115" y1="1101" x2="145" y2="1101" stroke="#3fe03f" stroke-width="4"/>
<line x1="115" y1="1114" x2="145" y2="1114" stroke="#d41c1c" stroke-width="3.2"/>
<line x1="115" y1="1127" x2="145" y2="1127" stroke="#3ccf3c" stroke-width="1"/>
<line x1="115" y1="1140" x2="145" y2="1140" stroke="#a82424" stroke-width="1"/>
<g style="font-size:11px">
<text x="147" y="1105" textLength="178" lengthAdjust="spacingAndGlyphs">Длинные позиции спекулянтов</text>
<text x="147" y="1118" textLength="180" lengthAdjust="spacingAndGlyphs">Короткие позиции спекулянтов</text>
<text x="147" y="1131" textLength="236" lengthAdjust="spacingAndGlyphs">Длинные позиции коммерческих игроков</text>
<text x="147" y="1144" textLength="240" lengthAdjust="spacingAndGlyphs">Короткие позиции коммерческих игроков</text>
</g>
<g class="e" style="font-size:10px">
<text transform="translate(48.5,1318) rotate(-90)">01.07.2008</text>
<text transform="translate(70.8,1318) rotate(-90)">05.08.2008</text>
<text transform="translate(93.1,1318) rotate(-90)">09.09.2008</text>
<text transform="translate(115.4,1318) rotate(-90)">14.10.2008</text>
<text transform="translate(137.7,1318) rotate(-90)">18.11.2008</text>
<text transform="translate(160,1318) rotate(-90)">22.12.2008</text>
<text transform="translate(182.3,1318) rotate(-90)">27.01.2009</text>
<text transform="translate(204.6,1318) rotate(-90)">03.03.2009</text>
<text transform="translate(226.9,1318) rotate(-90)">07.04.2009</text>
<text transform="translate(249.2,1318) rotate(-90)">12.05.2009</text>
<text transform="translate(271.5,1318) rotate(-90)">16.06.2009</text>
<text transform="translate(293.8,1318) rotate(-90)">21.07.2009</text>
<text transform="translate(316.1,1318) rotate(-90)">25.08.2009</text>
<text transform="translate(338.4,1318) rotate(-90)">29.09.2009</text>
<text transform="translate(360.7,1318) rotate(-90)">03.11.2009</text>
<text transform="translate(383,1318) rotate(-90)">08.12.2009</text>
<text transform="translate(405.3,1318) rotate(-90)">12.01.2010</text>
<text transform="translate(427.6,1318) rotate(-90)">16.02.2010</text>
<text transform="translate(449.9,1318) rotate(-90)">23.03.2010</text>
<text transform="translate(472.2,1318) rotate(-90)">27.04.2010</text>
<text transform="translate(494.5,1318) rotate(-90)">01.06.2010</text>
<text transform="translate(516.8,1318) rotate(-90)">06.07.2010</text>
<text transform="translate(539.1,1318) rotate(-90)">10.08.2010</text>
<text transform="translate(561.4,1318) rotate(-90)">14.09.2010</text>
<text transform="translate(583.7,1318) rotate(-90)">19.10.2010</text>
<text transform="translate(606,1318) rotate(-90)">23.11.2010</text>
<text transform="translate(628.3,1318) rotate(-90)">28.12.2010</text>
<text transform="translate(650.6,1318) rotate(-90)">01.02.2011</text>
<text transform="translate(672.9,1318) rotate(-90)">08.03.2011</text>
<text transform="translate(695.2,1318) rotate(-90)">12.04.2011</text>
<text transform="translate(717.5,1318) rotate(-90)">17.05.2011</text>
<text transform="translate(739.8,1318) rotate(-90)">21.06.2011</text>
<text transform="translate(762.1,1318) rotate(-90)">26.07.2011</text>
</g>
</g>

<!-- ANNOTATION ARROWS -->
<g id="connectors">
<line class="arr" x1="106" y1="129.5" x2="131" y2="129.5"/>
<line class="arr2" x1="101" y1="378" x2="247" y2="88"/>
<line class="arr2" x1="87" y1="405" x2="87" y2="522"/>
<line class="arr2" x1="57" y1="541" x2="57" y2="587"/>
<line class="arr" x1="202" y1="697" x2="179" y2="697"/>
<line class="arr" x1="717" y1="70" x2="732" y2="70"/>
<line class="arr" x1="658" y1="305" x2="658" y2="262"/>
<line class="arr" x1="671" y1="262" x2="671" y2="306"/>
<line class="arr" x1="770" y1="346" x2="741" y2="346"/>
<line class="arr" x1="698" y1="807" x2="727" y2="786"/>
<line class="arr" x1="700" y1="932" x2="729" y2="948"/>
<line class="arr" x1="790" y1="1207" x2="764" y2="1235"/>
<line class="arr" x1="790" y1="1234" x2="765" y2="1260"/>
</g>
</svg>
